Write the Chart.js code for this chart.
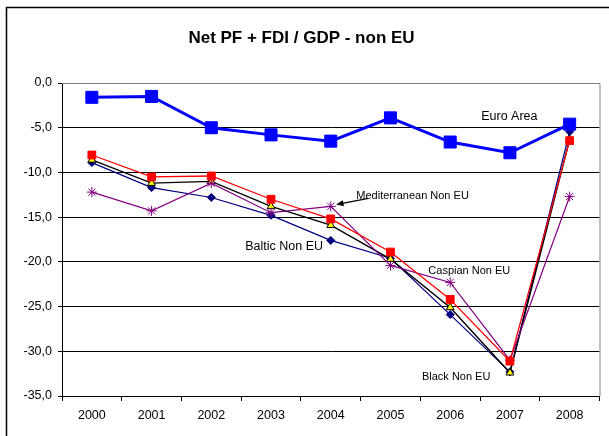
<!DOCTYPE html>
<html>
<head>
<meta charset="utf-8">
<script src="https://cdn.jsdelivr.net/npm/chart.js@4/dist/chart.umd.min.js"></script>
<style>
  html, body { margin: 0; padding: 0; background: #fff; }
  #wrap { width: 609px; height: 436px; position: relative; }
</style>
</head>
<body>
<div id="wrap"><canvas id="chart"></canvas></div>
<script>
// ── Dados (valores em % do PIB) ──
const years = ['2000','2001','2002','2003','2004','2005','2006','2007','2008'];
const euroArea      = [-1.6, -1.5, -5.0, -5.8, -6.5, -3.9, -6.6, -7.8, -4.6];
const caspianNonEU  = [-8.05, -10.5, -10.4, -13.0, -15.2, -18.9, -24.2, -31.1, -6.45];
const blackNonEU    = [-8.6, -11.2, -11.0, -13.8, -15.9, -19.7, -25.1, -32.4, -6.3];
const balticNonEU   = [-8.9, -11.7, -12.8, -14.8, -17.6, -19.6, -25.9, -32.3, -5.45];
const medNonEU      = [-12.2, -14.3, -11.2, -14.5, -13.8, -20.4, -22.3, -31.0, -12.7];

// etiquetas soltas no gráfico: [texto, índice da categoria, valor, tamanho da letra]
const seriesLabels = [
  ['Euro Area',            6.99,  -3.8, 12.5],
  ['Mediterranean Non EU', 5.37, -12.6, 11],
  ['Baltic Non EU',        3.22, -18.3, 12.5],
  ['Caspian Non EU',       6.32, -21.0, 11],
  ['Black Non EU',         6.1,  -32.9, 11],
];
// seta da etiqueta Mediterranean -> ponto de 2004
const arrowFrom = [4.63, -12.9];
const arrowTo   = [4.09, -13.6];

const FONT = "'Liberation Sans', Arial, sans-serif";

function fmtComma(v) {
  return v.toFixed(1).replace('.', ',');
}

// moldura exterior, borda direita da área do gráfico, etiquetas e seta
const decorPlugin = {
  id: 'decor',
  beforeDraw(chart) {
    const ctx = chart.ctx;
    ctx.save();
    ctx.fillStyle = '#fff';
    ctx.fillRect(0, 0, chart.width, chart.height);
    ctx.strokeStyle = '#000';
    ctx.lineWidth = 1.5;
    ctx.beginPath();
    ctx.moveTo(6.5, chart.height);
    ctx.lineTo(6.5, 7.5);
    ctx.lineTo(chart.width, 7.5);
    ctx.stroke();
    ctx.restore();
  },
  afterDatasetsDraw(chart) {
    const { ctx, chartArea: a } = chart;
    const xs = chart.scales.x, ys = chart.scales.y;
    ctx.save();
    ctx.strokeStyle = '#808080';
    ctx.lineWidth = 1;
    ctx.beginPath();
    ctx.moveTo(a.left, a.top + 0.5);
    ctx.lineTo(a.right + 0.5, a.top + 0.5);
    ctx.lineTo(a.right + 0.5, a.bottom);
    ctx.stroke();

    ctx.fillStyle = '#000';
    ctx.textAlign = 'center';
    ctx.textBaseline = 'middle';
    seriesLabels.forEach(([txt, xi, v, size]) => {
      ctx.font = size + 'px ' + FONT;
      ctx.fillText(txt, xs.getPixelForValue(xi), ys.getPixelForValue(v));
    });

    const x1 = xs.getPixelForValue(arrowFrom[0]), y1 = ys.getPixelForValue(arrowFrom[1]);
    const x2 = xs.getPixelForValue(arrowTo[0]),   y2 = ys.getPixelForValue(arrowTo[1]);
    const ang = Math.atan2(y2 - y1, x2 - x1);
    ctx.strokeStyle = '#000';
    ctx.lineWidth = 1.3;
    ctx.beginPath();
    ctx.moveTo(x1, y1);
    ctx.lineTo(x2 - 5 * Math.cos(ang), y2 - 5 * Math.sin(ang));
    ctx.stroke();
    ctx.beginPath();
    ctx.moveTo(x2, y2);
    ctx.lineTo(x2 - 8 * Math.cos(ang - 0.4), y2 - 8 * Math.sin(ang - 0.4));
    ctx.lineTo(x2 - 8 * Math.cos(ang + 0.4), y2 - 8 * Math.sin(ang + 0.4));
    ctx.closePath();
    ctx.fill();
    ctx.restore();
  }
};

function line(label, data, color, width, style, radius, fill, border) {
  return {
    label, data,
    borderColor: color,
    borderWidth: width,
    pointStyle: style,
    pointRadius: radius,
    pointHoverRadius: radius,
    pointBackgroundColor: fill || color,
    pointBorderColor: border || color,
    pointBorderWidth: 1,
    tension: 0,
    fill: false
  };
}

new Chart(document.getElementById('chart'), {
  type: 'line',
  data: {
    labels: years,
    datasets: [
      line('Euro Area', euroArea, '#0000FF', 3, 'rect', 8.5),
      line('Caspian Non EU', caspianNonEU, '#FF0000', 1.3, 'rect', 5.5),
      line('Mediterranean Non EU', medNonEU, '#800080', 1.2, 'star', 5),
      line('Black Non EU', blackNonEU, '#000000', 1.4, 'triangle', 4.5, '#FFFF00', '#000000'),
      line('Baltic Non EU', balticNonEU, '#000080', 1.2, 'rectRot', 4),
    ]
  },
  options: {
    responsive: true,
    maintainAspectRatio: false,
    animation: false,
    layout: { padding: { left: 0, right: 6, top: 0, bottom: 0 } },
    plugins: {
      legend: { display: false },
      tooltip: { enabled: false },
      title: {
        display: true,
        text: 'Net PF + FDI / GDP - non EU',
        color: '#000',
        font: { family: FONT, size: 17, weight: 'bold' },
        padding: { top: 28, bottom: 34.6 }
      }
    },
    scales: {
      x: {
        offset: true,
        afterFit(axis) { axis.height = 40; },
        grid: { offset: true, drawOnChartArea: false, color: '#000', tickLength: 5 },
        border: { color: '#000', width: 1 },
        ticks: { color: '#000', padding: 7, maxRotation: 0, font: { family: FONT, size: 12.5 } }
      },
      y: {
        min: -35,
        max: 0,
        afterFit(axis) { axis.width = 62; },
        grid: {
          color: ctx => ctx.tick && ctx.tick.value === 0 ? '#808080' : '#000',
          tickColor: '#000',
          tickLength: 4
        },
        border: { color: '#000', width: 1 },
        ticks: {
          stepSize: 5,
          color: '#000',
          padding: 6,
          font: { family: FONT, size: 12.5 },
          callback: v => fmtComma(v)
        }
      }
    }
  },
  plugins: [decorPlugin]
});
</script>
</body>
</html>
